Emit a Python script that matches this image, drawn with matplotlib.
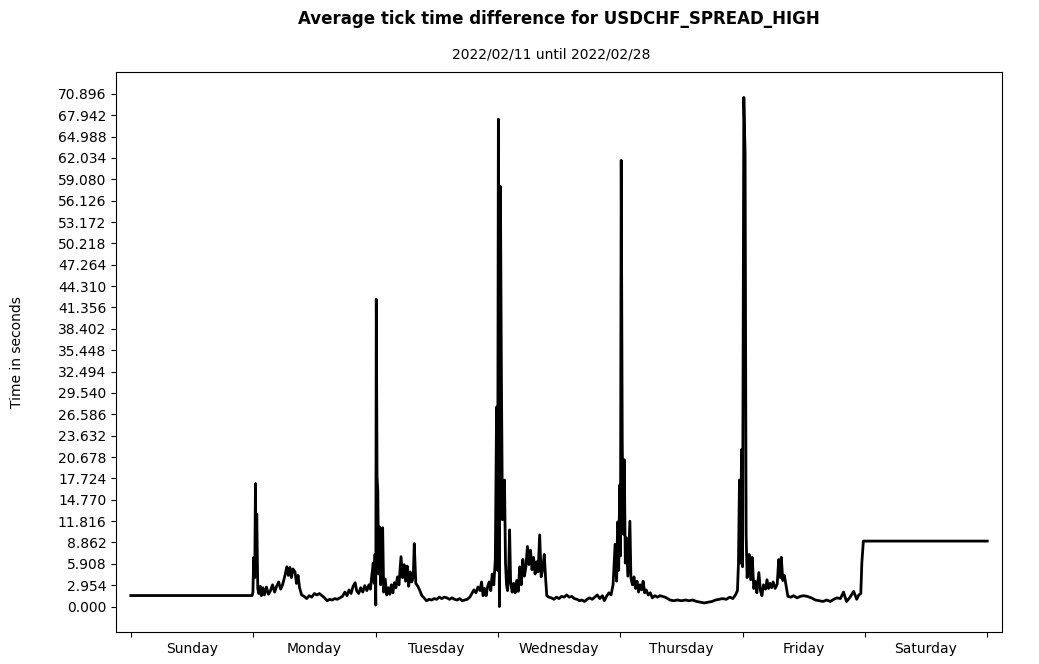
import matplotlib
matplotlib.use("Agg")
import matplotlib.pyplot as plt
import numpy as np

# hours since the start of the week (Sunday 00:00) and mean tick gap in seconds
sun_h = [0, 23.8]
sun_v = [1.52, 1.52]

mon_h = [23.95, 24.1, 24.3, 24.45, 24.55, 24.7, 24.9, 25.1, 25.4, 25.6, 25.9, 26.2, 26.6, 27.0, 27.4,
         27.8, 28.2, 28.6, 29.0, 29.4, 29.8, 30.2, 30.6, 30.9, 31.2, 31.5, 31.8, 32.2, 32.5,
         32.8, 33.1, 33.5, 34.0, 34.5, 35.0, 35.5, 36.0, 36.5, 37.0, 37.5, 38.0, 38.5, 39.0,
         39.5, 40.0, 40.5, 41.0, 41.5, 42.0, 42.4, 42.8, 43.2, 43.6, 44.0, 44.3, 44.7, 45.1,
         45.5, 45.9, 46.3, 46.7, 47.0, 47.3, 47.55, 47.75, 47.9]
mon_v = [2.0, 6.8, 4.0, 17.0, 5.0, 12.8, 2.5, 1.8, 2.8, 1.5, 2.6, 1.6, 2.7, 1.7, 2.2,
         3.0, 2.0, 2.8, 3.4, 2.4, 3.1, 4.2, 5.5, 4.3, 5.4, 4.0, 5.2, 4.8, 3.2,
         4.3, 2.6, 1.6, 1.4, 1.1, 1.5, 1.3, 1.8, 1.6, 1.8, 1.5, 1.2, 0.8, 1.0,
         0.9, 1.1, 1.0, 1.2, 1.4, 2.0, 1.5, 2.3, 1.8, 2.8, 3.3, 2.2, 1.8, 2.6,
         2.0, 2.9, 2.2, 3.0, 2.4, 4.5, 6.0, 3.2, 7.2]

tue_h = [48.05, 48.15, 48.3, 48.45, 48.6, 48.8, 49.0, 49.2, 49.4, 49.6, 49.9, 50.2, 50.5,
         50.8, 51.1, 51.4, 51.7, 52.0, 52.3, 52.6, 53.0, 53.3, 53.6, 53.9, 54.2, 54.5, 54.8,
         55.1, 55.4, 55.6, 55.9, 56.3, 56.7, 57.1, 57.5, 58.0, 58.5, 59.0, 59.5, 60.0, 60.5,
         61.0, 61.5, 62.0, 62.5, 63.0, 63.5, 64.0, 64.5, 65.0, 65.5, 66.0, 66.5, 66.9, 67.3,
         67.7, 68.1, 68.5, 68.8, 69.1, 69.4, 69.7, 70.0, 70.3, 70.6, 70.9, 71.2, 71.5, 71.75,
         71.95]
tue_v = [0.2, 42.5, 17.9, 16.0, 4.5, 11.0, 3.0, 5.5, 10.9, 2.0, 3.8, 1.6, 2.6,
         1.7, 3.0, 1.9, 3.3, 2.6, 4.1, 3.0, 6.9, 4.0, 5.8, 3.5, 5.6, 2.8, 4.8,
         3.4, 4.0, 8.7, 3.2, 2.8, 2.2, 1.5, 1.2, 0.8, 1.0, 0.9, 1.1, 1.0, 1.3,
         1.1, 1.3, 1.2, 1.0, 1.2, 1.0, 0.9, 1.1, 0.8, 0.9, 1.0, 1.3, 1.8, 2.3,
         1.9, 2.7, 2.2, 3.4, 1.5, 2.5, 1.5, 2.8, 3.4, 2.2, 4.5, 3.0, 6.5, 27.6,
         5.0]

wed_h = [72.1, 72.3, 72.5, 72.7, 72.9, 73.1, 73.3, 73.5, 73.7, 73.9, 74.1, 74.3, 74.5, 74.8,
         75.1, 75.4, 75.7, 76.0, 76.3, 76.6, 76.9, 77.2, 77.5, 77.8, 78.1, 78.4, 78.7, 79.0,
         79.3, 79.6, 79.9, 80.2, 80.5, 80.8, 81.1, 81.4, 81.6, 82.0, 82.5, 83.0, 83.5, 84.0,
         84.5, 85.0, 85.5, 86.0, 86.5, 87.0, 87.5, 88.0, 88.5, 89.0, 89.5, 90.0, 90.5, 91.0,
         91.5, 92.0, 92.5, 92.9, 93.3, 93.8, 94.2, 94.6, 95.0, 95.3, 95.5, 95.7, 95.9]
wed_v = [67.4, 0.0, 58.1, 31.3, 12.0, 13.4, 17.5, 6.0, 3.0, 2.2, 4.0, 10.6, 3.5, 2.0,
         3.2, 1.9, 3.6, 2.1, 5.5, 3.0, 6.5, 4.2, 5.5, 8.3, 5.8, 7.8, 5.1, 6.8,
         4.5, 6.2, 4.8, 9.9, 4.1, 5.2, 7.2, 3.5, 1.5, 1.3, 1.2, 1.0, 1.3, 1.1,
         1.4, 1.3, 1.6, 1.3, 1.4, 1.1, 1.0, 0.8, 0.9, 0.7, 1.0, 1.2, 1.0, 1.3,
         1.6, 1.1, 1.5, 0.8, 1.4, 1.9, 1.6, 3.0, 8.6, 3.5, 11.7, 5.0, 16.8]

thu_h = [96.05, 96.2, 96.4, 96.6, 96.8, 97.0, 97.2, 97.5, 97.7, 97.9, 98.1, 98.4, 98.7, 99.0,
         99.3, 99.6, 99.9, 100.2, 100.5, 100.8, 101.1, 101.5, 101.9, 102.3, 102.8, 103.3,
         103.8, 104.3, 104.8, 105.3, 105.8, 106.5, 107.2, 108.0, 108.8, 109.5, 110.2, 111.0,
         111.8, 112.5, 113.2, 114.0, 114.7, 115.4, 116.1, 116.8, 117.5, 118.1, 118.6, 119.0,
         119.2, 119.4, 119.6, 119.8]
thu_v = [7.0, 61.7, 22.8, 10.0, 20.3, 6.0, 9.5, 4.2, 8.0, 11.8, 4.0, 3.0, 4.1, 2.5,
         3.5, 2.0, 3.0, 2.3, 3.5, 1.9, 2.3, 1.6, 1.9, 1.2, 1.5, 1.3,
         1.5, 1.4, 1.3, 1.1, 0.9, 0.8, 0.9, 0.8, 0.9, 0.8, 0.9, 0.7,
         0.6, 0.5, 0.6, 0.7, 0.9, 1.0, 1.1, 1.0, 1.3, 1.1, 1.6, 2.2,
         6.0, 17.5, 6.0, 21.7]

fri_h = [120.0, 120.25, 120.5, 120.7, 120.9, 121.1, 121.3, 121.6, 121.9, 122.2, 122.5, 122.8,
         123.2, 123.5, 123.8, 124.1, 124.5, 124.8, 125.1, 125.4, 125.7, 126.0, 126.4, 126.8,
         127.1, 127.4, 127.6, 127.9, 128.2, 128.6, 128.9, 129.5, 130.0, 130.7, 131.3, 132.0,
         132.7, 133.5, 134.3, 135.0, 135.8, 136.5, 137.2, 137.9, 138.5, 139.2, 139.8, 140.4,
         141.0, 141.8, 142.4, 142.8, 143.2, 143.4, 143.7]
fri_v = [5.5, 70.4, 62.6, 10.0, 4.0, 6.0, 7.2, 3.7, 6.8, 2.5, 3.5, 1.9,
         4.7, 2.2, 1.5, 3.0, 2.4, 3.7, 2.5, 3.2, 2.6, 3.4, 2.5, 3.1,
         6.5, 4.0, 6.8, 3.6, 4.3, 2.6, 1.4, 1.3, 1.5, 1.2, 1.4, 1.5,
         1.4, 1.2, 0.9, 0.8, 0.7, 0.9, 0.7, 1.0, 1.2, 1.1, 2.0, 0.7,
         1.2, 2.1, 1.0, 1.6, 1.8, 6.0, 9.05]

sat_h = [168.0]
sat_v = [9.05]

days = ["Sunday", "Monday", "Tuesday", "Wednesday", "Thursday", "Friday", "Saturday"]
ytick_top = 70.896  # top y tick as printed on the chart

hours = np.array(sun_h + mon_h + tue_h + wed_h + thu_h + fri_h + sat_h)
secs = np.array(sun_v + mon_v + tue_v + wed_v + thu_v + fri_v + sat_v)

fig = plt.figure(figsize=(10.39, 6.64), dpi=100)
ax = fig.add_axes([0.1117, 0.0482, 0.8527, 0.8434])

ax.plot(hours, secs, color="black", linewidth=2)

ax.set_xlim(-2.9, 170.9)
ax.set_xticks(np.arange(0, 169, 24))
ax.set_xticklabels([])
ax.set_xticks(np.arange(12, 168, 24), minor=True)
ax.set_xticklabels(days, minor=True)
ax.tick_params(axis="x", which="minor", length=0, pad=7)

yt = np.linspace(0, ytick_top, 25)
ax.set_yticks(yt)
ax.set_yticklabels(["%.3f" % v for v in yt])
ax.margins(y=0.05)
ax.set_ylabel("Time in seconds", labelpad=24)

ax.set_title("2022/02/11 until 2022/02/28", fontsize=10, pad=10, x=0.491)
fig.suptitle("Average tick time difference for USDCHF_SPREAD_HIGH", x=0.538, y=0.985,
             fontsize=12, fontweight="bold")

fig.savefig("out.png", dpi=100)
